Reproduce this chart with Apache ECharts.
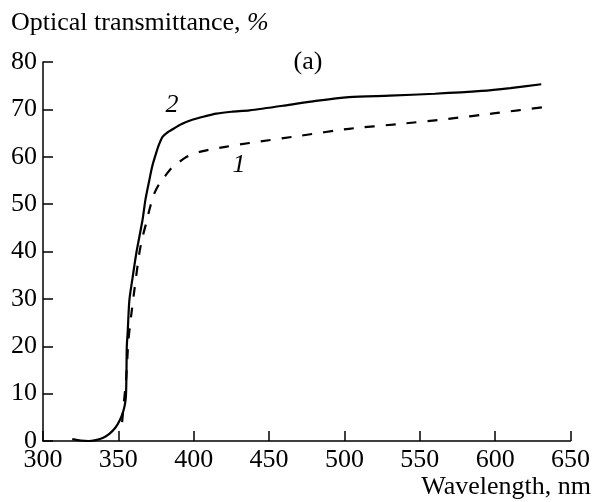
<!DOCTYPE html>
<html>
<head>
<meta charset="utf-8">
<script src="https://cdn.jsdelivr.net/npm/echarts@6/dist/echarts.min.js"></script>
<style>
  html, body { margin: 0; padding: 0; background: #fff; }
  #chart { width: 593px; height: 502px; }
</style>
</head>
<body>
<div id="chart"></div>
<script>
// Transmission spectra: wavelength (nm) vs optical transmittance (%)
const curve2Wavelength = [319.4, 325, 330, 335, 340, 344, 348, 350.7, 353, 354.5, 355.1, 355.4, 355.6, 356.2, 357.3, 359.5, 362.1, 366, 368, 370.5, 372.5, 375, 377, 379.3, 382, 386, 392, 399, 407, 415, 425, 437, 460, 481, 503, 530, 560, 591, 610, 630.6];
const curve2Transmittance = [0.4, 0.1, 0, 0.2, 0.7, 1.5, 2.8, 4.2, 6, 8, 10, 15, 20, 23, 29.7, 34.6, 40, 46.6, 51, 55, 58, 60.7, 62.6, 64.2, 65.0, 65.8, 66.9, 67.8, 68.5, 69.1, 69.5, 69.8, 70.8, 71.8, 72.6, 72.9, 73.3, 73.9, 74.5, 75.3];

const curve1Wavelength = [352.5, 353.6, 355.1, 356.7, 358.4, 360.6, 363.9, 366, 368.4, 371, 373.8, 377, 380.5, 385, 390.4, 396, 403.6, 412, 421, 437, 470, 503, 536, 569, 600, 633];
const curve1Transmittance = [4, 7.9, 12.8, 21.3, 26.2, 31.8, 39.6, 43, 45.9, 49.3, 52.2, 54.2, 55.7, 57.5, 58.9, 60.1, 61, 61.6, 62.1, 62.9, 64.4, 65.9, 66.9, 68, 69.2, 70.5];

const xTicks = { min: 300, max: 650, step: 50 };
const yTicks = { min: 0, max: 80, step: 10 };

const FONT = '"Liberation Serif", "Times New Roman", serif';
const SIZE = 26;

function pairs(xs, ys) {
  return xs.map((x, i) => [x, ys[i]]);
}

const chart = echarts.init(document.getElementById('chart'), null, { renderer: 'canvas' });

const axisCommon = {
  axisLine: { show: true, onZero: false, lineStyle: { color: '#000', width: 1.5 } },
  axisTick: { show: true, inside: true, length: 10, lineStyle: { color: '#000', width: 1.5 } },
  axisLabel: { color: '#000', fontFamily: FONT, fontSize: SIZE },
  splitLine: { show: false }
};

chart.setOption({
  animation: false,
  backgroundColor: '#fff',
  grid: { left: 43, right: 20, top: 62, bottom: 61, containLabel: false },
  xAxis: Object.assign({}, axisCommon, {
    type: 'value',
    min: xTicks.min, max: xTicks.max, interval: xTicks.step,
    axisLabel: Object.assign({}, axisCommon.axisLabel, { margin: 6 })
  }),
  yAxis: Object.assign({}, axisCommon, {
    type: 'value',
    min: yTicks.min, max: yTicks.max, interval: yTicks.step,
    axisLabel: Object.assign({}, axisCommon.axisLabel, { margin: 6 })
  }),
  series: [
    {
      name: '2',
      type: 'line',
      data: pairs(curve2Wavelength, curve2Transmittance),
      showSymbol: false,
      smooth: 0.25,
      lineStyle: { color: '#000', width: 2.2, type: 'solid' }
    },
    {
      name: '1',
      type: 'line',
      data: pairs(curve1Wavelength, curve1Transmittance),
      showSymbol: false,
      smooth: 0.25,
      lineStyle: { color: '#000', width: 2.2, type: [10, 11] }
    }
  ],
  graphic: [
    {
      type: 'text', left: 11, top: 10,
      style: {
        text: 'Optical transmittance, {i|%}',
        fill: '#000', font: SIZE + 'px ' + FONT,
        rich: { i: { fontStyle: 'italic', fontSize: SIZE, fontFamily: FONT } }
      }
    },
    {
      type: 'text', x: 591, y: 487,
      style: { text: 'Wavelength, nm', fill: '#000', font: SIZE + 'px ' + FONT, align: 'right', verticalAlign: 'middle' }
    },
    {
      type: 'text', x: 308, y: 62,
      style: { text: '(a)', fill: '#000', font: SIZE + 'px ' + FONT, align: 'center', verticalAlign: 'middle' }
    },
    {
      type: 'text', x: 172, y: 105,
      style: { text: '2', fill: '#000', font: 'italic ' + SIZE + 'px ' + FONT, align: 'center', verticalAlign: 'middle' }
    },
    {
      type: 'text', x: 239, y: 165,
      style: { text: '1', fill: '#000', font: 'italic ' + SIZE + 'px ' + FONT, align: 'center', verticalAlign: 'middle' }
    }
  ]
});
</script>
</body>
</html>
